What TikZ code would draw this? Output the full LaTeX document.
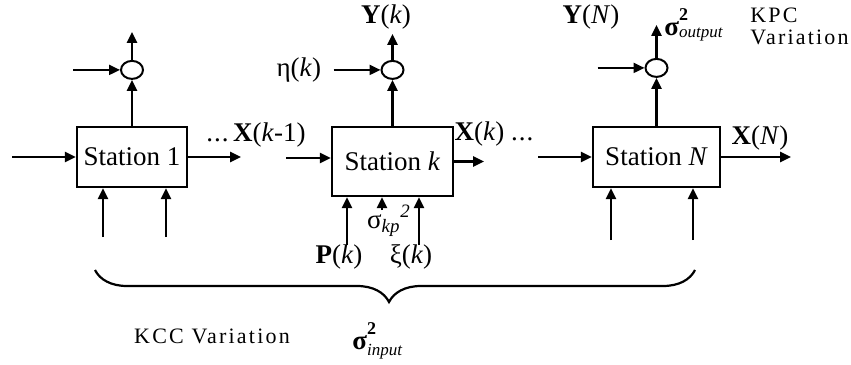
\documentclass[tikz,border=0pt]{standalone}
\usepackage{amsmath}
\usepackage{fontspec}
\setmainfont{Liberation Serif}
\usetikzlibrary{arrows.meta,positioning,shapes.geometric,decorations.pathreplacing}

\newcommand{\vb}[1]{\textbf{#1}}
\newcommand{\vsig}[2]{\textbf{σ}\rlap{\raisebox{7.5pt}{\fontsize{9}{9}\selectfont\bfseries 2}}{\fontsize{8.5}{9}\selectfont\itshape\raisebox{#1}{#2}}}

\tikzset{every node/.style={font=\fontsize{13.5}{15}\selectfont}}

\begin{document}
\begin{tikzpicture}[
  x=0.5pt, y=-0.5pt,
  box/.style={draw, line width=1.1pt, inner sep=0pt, minimum height=30pt},
  sum/.style={draw, ellipse, line width=1pt, inner sep=0pt, minimum width=11pt, minimum height=9pt},
  arr/.style={-{Triangle[length=5.5pt,width=5pt]}, line width=1.1pt},
  lbl/.style={inner sep=0pt},
  wide/.style={font=\fontsize{11}{11}\selectfont\addfontfeature{LetterSpace=10}}
]
  \useasboundingbox (0,0) rectangle (851,364);

  % stations
  \node[box, minimum width=55pt] (st1) at (132,157) {Station 1};
  \node[box, minimum width=60.5pt, minimum height=34.5pt] (stk) at (392.5,161.5) {Station \textit{k}};
  \node[box, minimum width=63.5pt] (stN) at (656.5,157) {Station \textit{N}};

  % summing junctions
  \node[sum, above=23pt of st1] (sum1) {};
  \node[sum, above=23pt of stk] (sumk) {};
  \node[sum, above=24pt of stN] (sumN) {};
  \draw[arr] (st1) -- (sum1);
  \draw[arr] (stk) -- (sumk);
  \draw[arr] (stN) -- (sumN);

  % measured outputs
  \coordinate[above=14pt of sum1.north] (o1);
  \coordinate[above=13pt of sumk.north] (ok);
  \coordinate[above=16.5pt of sumN.north] (oN);
  \draw[arr] (sum1) -- (o1);
  \draw[arr] (sumk) -- (ok);
  \draw[arr] (sumN) -- (oN);

  % measurement noise
  \coordinate[left=23.5pt of sum1.west] (n1);
  \coordinate[left=23.5pt of sumk.west] (nk);
  \coordinate[left=23.5pt of sumN.west] (nN);
  \draw[arr] (n1) -- (sum1);
  \draw[arr] (nk) -- (sumk);
  \draw[arr] (nN) -- (sumN);
  \node[lbl, left=6pt of nk] (eta) {η(\textit{k})};

  % state flow
  \coordinate (in1) at (12,157);
  \coordinate (ink) at (286,158);
  \coordinate (inN) at (538,157);
  \draw[arr] (in1) -- (st1);
  \draw[arr] (ink) -- (ink -| stk.west);
  \draw[arr] (inN) -- (stN);
  \coordinate[right=26.5pt of st1.east] (out1);
  \coordinate[right=15pt of stk.east] (outk);
  \coordinate[right=35pt of stN.east] (outN);
  \draw[arr] (st1) -- (out1);
  \draw[arr] (stk) -- (outk);
  \draw[arr] (stN) -- (outN);
  \node[lbl] (xk1) at (256,135) {.\kern0.5pt.\kern0.5pt.\,\vb{X}(\textit{k}-1)};
  \node[lbl] (xk) at (494,134) {\vb{X}(\textit{k}) .\kern0.5pt.\kern0.5pt.};
  \node[lbl] (xN) at (760,138) {\vb{X}(\textit{N})};
  \node[lbl] (yk) at (386,17) {\vb{Y}(\textit{k})};
  \node[lbl] (yN) at (591,17) {\vb{Y}(\textit{N})};
  \node[lbl, anchor=base west] (sout) at (664,35) {\vsig{-1pt}{output}};
  \node[lbl, anchor=north west, align=left, wide] (kpc) at (750,8) {KPC\\Variation};

  % station inputs
  \coordinate (u11) at (103,237);
  \coordinate (u12) at (166,237);
  \coordinate (pk) at (347,245);
  \coordinate (sk) at (382,210);
  \coordinate (xik) at (419,245);
  \coordinate (uN1) at (611,240);
  \coordinate (uN2) at (693,240);
  \foreach \u/\s in {u11/st1, u12/st1, pk/stk, sk/stk, xik/stk, uN1/stN, uN2/stN}
    \draw[arr] (\u) -- (\u |- \s.south);
  \node[lbl] (plbl) at (339,257) {\vb{P}(\textit{k})};
  \node[lbl] (xilbl) at (411,257) {ξ(\textit{k})};
  \node[lbl] (skp) at (389,221) {σ\textsubscript{\textit{kp}}\textsuperscript{\textit{2}}};

  % input variation
  \coordinate (bl) at (95,270);
  \coordinate (br) at (695,270);
  \draw[decorate, decoration={brace, mirror, amplitude=16pt, aspect=0.49}, line width=1.1pt] (bl) -- (br);
  \node[lbl, wide] (kcc) at (212,336) {KCC Variation};
  \node[lbl, anchor=base west] (sin) at (352,349) {\vsig{-3pt}{input}};
\end{tikzpicture}
\end{document}
